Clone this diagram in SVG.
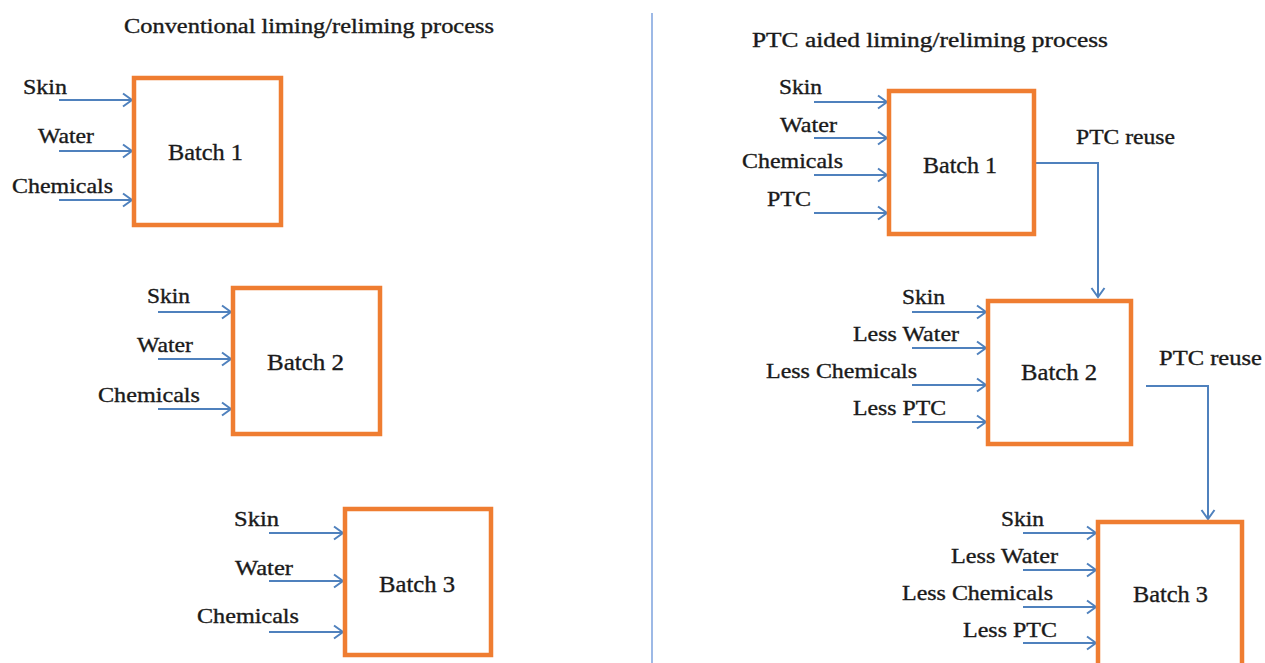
<svg xmlns="http://www.w3.org/2000/svg" width="1265" height="663" viewBox="0 0 1265 663">
<defs>
<style>
.box{fill:#fff;stroke:#EF7D31;stroke-width:4.5}
.arr{fill:none;stroke:#4F81BD;stroke-width:2;marker-end:url(#ah)}
text{font-family:'Liberation Serif','DejaVu Serif',serif;fill:#1a1a1a;stroke:#1a1a1a;stroke-width:0.35}
.lbl{font-size:21px}
.bt{font-size:23px}
.ttl{font-size:20px}
</style>
<marker id="ah" markerUnits="userSpaceOnUse" markerWidth="14" markerHeight="16" refX="11" refY="8" orient="auto">
<path d="M2,1.5 L11,8 L2,14.5" fill="none" stroke="#4F81BD" stroke-width="2"/>
</marker>
</defs>
<rect width="1265" height="663" fill="#fff"/>
<line x1="652" y1="13" x2="652" y2="663" stroke="#9DB9E6" stroke-width="2"/>
<text class="ttl" x="124" y="33" textLength="370" lengthAdjust="spacingAndGlyphs">Conventional liming/reliming  process</text>
<text class="ttl" x="752" y="47" textLength="356" lengthAdjust="spacingAndGlyphs">PTC aided liming/reliming  process</text>

<g id="connectors">
<line class="arr" x1="59" y1="100" x2="132" y2="100"/>
<line class="arr" x1="59" y1="151" x2="132" y2="151"/>
<line class="arr" x1="59" y1="200" x2="132" y2="200"/>
<line class="arr" x1="158" y1="312" x2="231" y2="312"/>
<line class="arr" x1="158" y1="359" x2="231" y2="359"/>
<line class="arr" x1="158" y1="409" x2="231" y2="409"/>
<line class="arr" x1="269" y1="533" x2="343" y2="533"/>
<line class="arr" x1="269" y1="581" x2="343" y2="581"/>
<line class="arr" x1="269" y1="632" x2="343" y2="632"/>
<line class="arr" x1="814" y1="102" x2="887" y2="102"/>
<line class="arr" x1="814" y1="138" x2="887" y2="138"/>
<line class="arr" x1="814" y1="175" x2="887" y2="175"/>
<line class="arr" x1="814" y1="213" x2="887" y2="213"/>
<line class="arr" x1="912" y1="312" x2="986" y2="312"/>
<line class="arr" x1="912" y1="348" x2="986" y2="348"/>
<line class="arr" x1="912" y1="385" x2="986" y2="385"/>
<line class="arr" x1="912" y1="422" x2="986" y2="422"/>
<line class="arr" x1="1023" y1="533" x2="1096" y2="533"/>
<line class="arr" x1="1023" y1="570" x2="1096" y2="570"/>
<line class="arr" x1="1023" y1="607" x2="1096" y2="607"/>
<line class="arr" x1="1023" y1="643" x2="1096" y2="643"/>
<polyline class="arr" points="1036,163 1098,163 1098,297"/>
<polyline class="arr" points="1146,386 1208,386 1208,519"/>
</g>

<g id="left-batch1">
<rect class="box" x="134" y="78" width="147" height="147"/>
<text class="bt" x="168" y="160" textLength="75" lengthAdjust="spacingAndGlyphs">Batch 1</text>
<text class="lbl" x="23" y="94" textLength="44" lengthAdjust="spacingAndGlyphs">Skin</text>
<text class="lbl" x="38" y="143" textLength="56" lengthAdjust="spacingAndGlyphs">Water</text>
<text class="lbl" x="12" y="193" textLength="101" lengthAdjust="spacingAndGlyphs">Chemicals</text>
</g>

<g id="left-batch2">
<rect class="box" x="233" y="288" width="147" height="146"/>
<text class="bt" x="267" y="370" textLength="77" lengthAdjust="spacingAndGlyphs">Batch 2</text>
<text class="lbl" x="147" y="303" textLength="43" lengthAdjust="spacingAndGlyphs">Skin</text>
<text class="lbl" x="137" y="352" textLength="56" lengthAdjust="spacingAndGlyphs">Water</text>
<text class="lbl" x="98" y="402" textLength="102" lengthAdjust="spacingAndGlyphs">Chemicals</text>
</g>

<g id="left-batch3">
<rect class="box" x="345" y="509" width="146" height="146"/>
<text class="bt" x="379" y="592" textLength="76" lengthAdjust="spacingAndGlyphs">Batch 3</text>
<text class="lbl" x="234" y="526" textLength="45" lengthAdjust="spacingAndGlyphs">Skin</text>
<text class="lbl" x="235" y="575" textLength="58" lengthAdjust="spacingAndGlyphs">Water</text>
<text class="lbl" x="197" y="623" textLength="102" lengthAdjust="spacingAndGlyphs">Chemicals</text>
</g>

<g id="right-batch1">
<rect class="box" x="889" y="91" width="145" height="143"/>
<text class="bt" x="923" y="173" textLength="74" lengthAdjust="spacingAndGlyphs">Batch 1</text>
<text class="lbl" x="779" y="94" textLength="43" lengthAdjust="spacingAndGlyphs">Skin</text>
<text class="lbl" x="780" y="132" textLength="57" lengthAdjust="spacingAndGlyphs">Water</text>
<text class="lbl" x="742" y="168" textLength="101" lengthAdjust="spacingAndGlyphs">Chemicals</text>
<text class="lbl" x="767" y="206" textLength="44" lengthAdjust="spacingAndGlyphs">PTC</text>
<text class="lbl" x="1076" y="144" textLength="99" lengthAdjust="spacingAndGlyphs">PTC reuse</text>
</g>

<g id="right-batch2">
<rect class="box" x="988" y="301" width="143" height="143"/>
<text class="bt" x="1021" y="380" textLength="76" lengthAdjust="spacingAndGlyphs">Batch 2</text>
<text class="lbl" x="902" y="304" textLength="43" lengthAdjust="spacingAndGlyphs">Skin</text>
<text class="lbl" x="853" y="341" textLength="106" lengthAdjust="spacingAndGlyphs">Less Water</text>
<text class="lbl" x="766" y="378" textLength="151" lengthAdjust="spacingAndGlyphs">Less Chemicals</text>
<text class="lbl" x="853" y="415" textLength="93" lengthAdjust="spacingAndGlyphs">Less PTC</text>
<text class="lbl" x="1159" y="365" textLength="103" lengthAdjust="spacingAndGlyphs">PTC reuse</text>
</g>

<g id="right-batch3">
<rect class="box" x="1098" y="522" width="144" height="160"/>
<text class="bt" x="1133" y="602" textLength="75" lengthAdjust="spacingAndGlyphs">Batch 3</text>
<text class="lbl" x="1001" y="526" textLength="43" lengthAdjust="spacingAndGlyphs">Skin</text>
<text class="lbl" x="951" y="563" textLength="107" lengthAdjust="spacingAndGlyphs">Less Water</text>
<text class="lbl" x="902" y="600" textLength="151" lengthAdjust="spacingAndGlyphs">Less Chemicals</text>
<text class="lbl" x="963" y="637" textLength="94" lengthAdjust="spacingAndGlyphs">Less PTC</text>
</g>
</svg>
